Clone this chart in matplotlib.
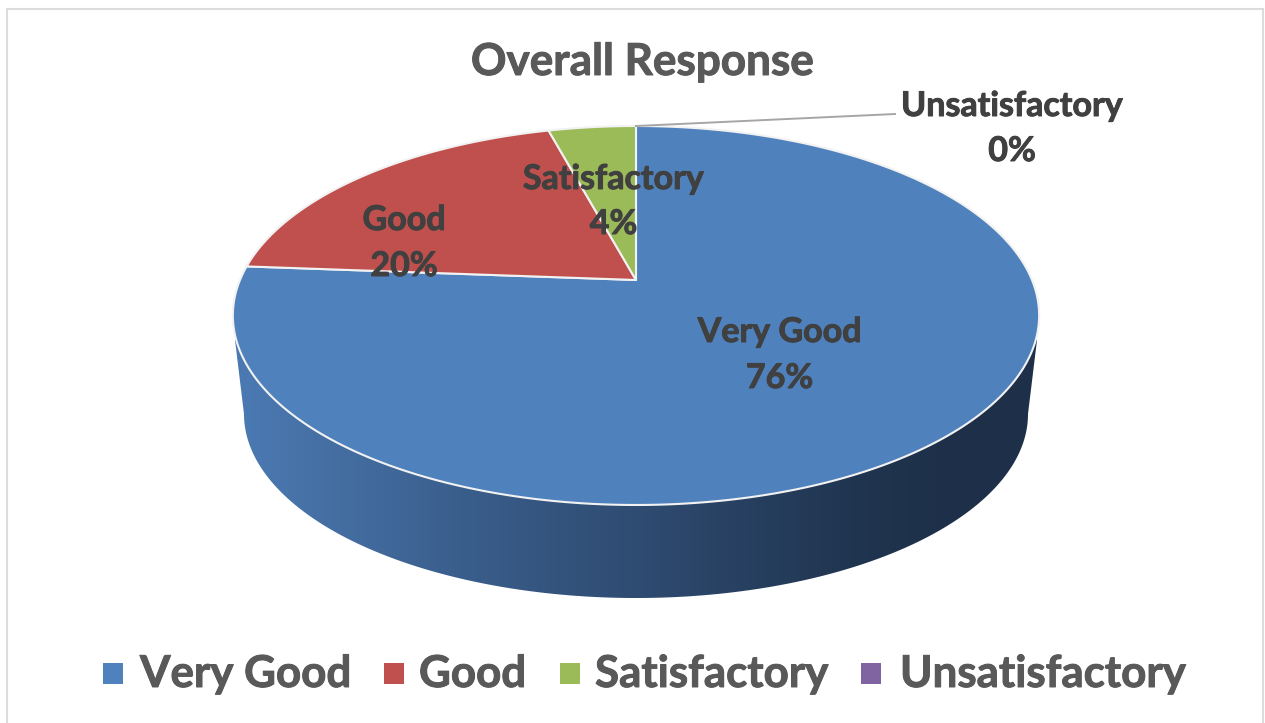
import numpy as np
import matplotlib
matplotlib.use("Agg")
import matplotlib.pyplot as plt
import matplotlib.patheffects as pe
from matplotlib.patches import Polygon, Rectangle

# ---- data ----
categories = ["Very Good", "Good", "Satisfactory", "Unsatisfactory"]
values = [76.2, 19.6, 4.2, 0.0]
colors = ["#4F81BD", "#C0504D", "#9BBB59", "#8064A2"]
title = "Overall Response"

W, H = 1265, 723
plt.rcParams['font.family'] = ['Lato', 'DejaVu Sans']
fig = plt.figure(figsize=(W / 100, H / 100), dpi=100)
ax = fig.add_axes([0, 0, 1, 1])
ax.set_xlim(0, W)
ax.set_ylim(H, 0)
ax.axis('off')

ax.add_patch(Rectangle((7, 9), 1256, H + 20, fc='white', ec='#DCDCDC', lw=1.5))

# perspective pie geometry
CX, CY, K = 636.0, 280.0, 396.0
A, C = -130.4, 0.1873


def project(frac):
    t = 2 * np.pi * np.asarray(frac)
    x, y = np.sin(t), np.cos(t)
    w = 1 + C * y
    return CX + K * x / w, (A * y + CY) / w


# side wall
low_cx, low_cy, low_rx, low_ry = 636.0, 414.0, 392.0, 184.0
ang = np.radians(np.linspace(0, 180, 300))
lx = low_cx + low_rx * np.cos(ang)
ly = low_cy + low_ry * np.sin(ang)
side = np.column_stack([np.r_[1037, lx, 235], np.r_[340, ly, 340]])
grad_colors = np.array([[0x4B, 0x7A, 0xB3], [0x45, 0x6F, 0xA3], [0x3A, 0x5E, 0x8C],
                        [0x2C, 0x47, 0x6B], [0x20, 0x35, 0x50], [0x1E, 0x30, 0x49], [0x1E, 0x30, 0x49]]) / 255
stops = np.array([236, 330, 460, 680, 850, 950, 1040])
xs = np.arange(234, 1040)
grad = np.column_stack([np.interp(xs, stops, grad_colors[:, i]) for i in range(3)])[None, :, :]
im = ax.imshow(grad, extent=(234, 1040, 600, 300), aspect='auto', zorder=1, interpolation='bilinear')
clip = Polygon(side, closed=True, transform=ax.transData, fc='none', ec='none')
ax.add_patch(clip)
im.set_clip_path(clip)
ax.set_xlim(0, W)
ax.set_ylim(H, 0)

# top wedges
cum = np.cumsum([0] + values) / sum(values)
for i, v in enumerate(values):
    if v <= 0:
        continue
    f = np.linspace(cum[i], cum[i + 1], 400)
    px, py = project(f)
    ax.add_patch(Polygon(np.column_stack([np.r_[CX, px], np.r_[CY, py]]), closed=True,
                         fc=colors[i], ec='#F2F2F2', lw=1.5, zorder=2, joinstyle='round'))

# leader line
ax.plot([636, 895], [126, 114], color='#A6A6A6', lw=1.4, zorder=3)

# labels
TXT = '#404040'
GREY = '#595959'
fs = 24.5


def bold_text(x, y, s, size, color, ha='center'):
    ax.text(x, y, s, ha=ha, va='center', fontsize=size, fontweight='bold', color=color, zorder=5,
            path_effects=[pe.withStroke(linewidth=0.7, foreground=color)])


def lab(x, y1, y2, name, pct):
    bold_text(x, y1, name, fs, TXT)
    bold_text(x, y2, pct, fs, TXT)


pcts = [f"{round(v)}%" for v in values]
lab(779.5, 332, 378, categories[0], pcts[0])
lab(404, 220, 266, categories[1], pcts[1])
lab(613.5, 179, 224, categories[2], pcts[2])
lab(1012, 106, 151, categories[3], pcts[3])

bold_text(642, 62, title, 31.7, GREY)

# legend
leg_sq = [103, 384, 560, 861]
leg_tx = [140, 419, 595, 900]
for c, name, sx, tx in zip(colors, categories, leg_sq, leg_tx):
    ax.add_patch(Rectangle((sx, 663), 20, 21, fc=c, ec='none', zorder=5))
    bold_text(tx, 674, name, 31.6, GREY, ha='left')

fig.savefig('out.png', dpi=100)
